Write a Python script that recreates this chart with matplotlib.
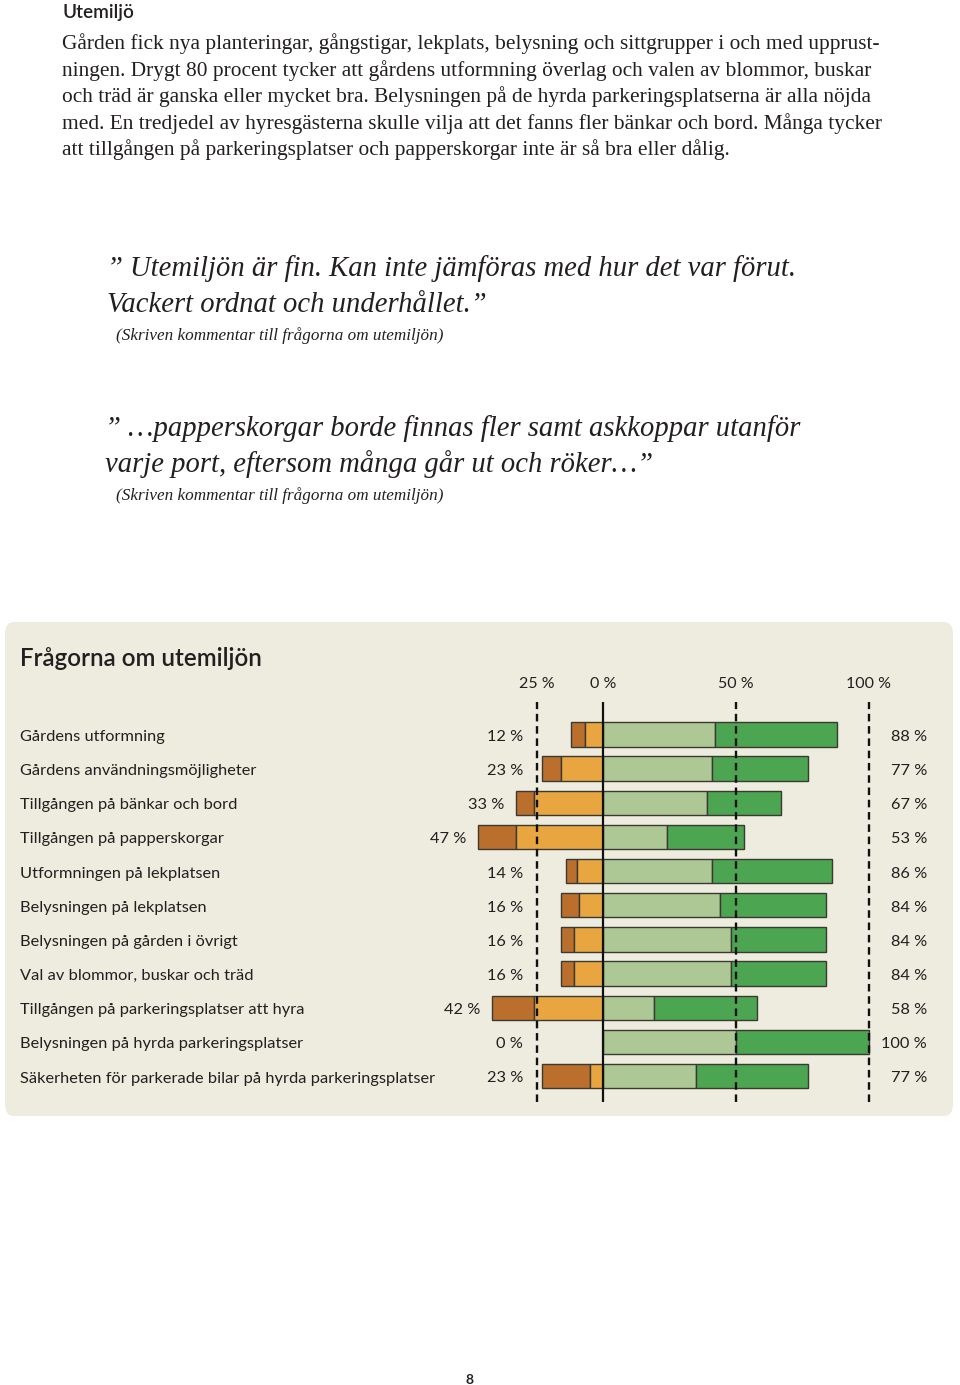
import matplotlib
matplotlib.use("Agg")
import matplotlib.pyplot as plt
from matplotlib.patches import FancyBboxPatch
from matplotlib.transforms import blended_transform_factory

# ---------------- data ----------------
categories = [
    "Gårdens utformning",
    "Gårdens användningsmöjligheter",
    "Tillgången på bänkar och bord",
    "Tillgången på papperskorgar",
    "Utformningen på lekplatsen",
    "Belysningen på lekplatsen",
    "Belysningen på gården i övrigt",
    "Val av blommor, buskar och träd",
    "Tillgången på parkeringsplatser att hyra",
    "Belysningen på hyrda parkeringsplatser",
    "Säkerheten för parkerade bilar på hyrda parkeringsplatser",
]
very_bad = [5, 7, 7, 14, 4, 7, 5, 5, 16, 0, 18]        # mycket dålig
rather_bad = [7, 16, 26, 33, 10, 9, 11, 11, 26, 0, 5]   # ganska dålig
rather_good = [42, 41, 39, 24, 41, 44, 48, 48, 19, 50, 35]  # ganska bra
very_good = [46, 36, 28, 29, 45, 40, 36, 36, 39, 50, 42]    # mycket bra
neg_labels = ["12 %", "23 %", "33 %", "47 %", "14 %", "16 %", "16 %", "16 %", "42 %", "0 %", "23 %"]
pos_labels = ["88 %", "77 %", "67 %", "53 %", "86 %", "84 %", "84 %", "84 %", "58 %", "100 %", "77 %"]
scale_ticks = [-25, 0, 50, 100]
scale_tick_labels = ["25 %", "0 %", "50 %", "100 %"]

heading = "Utemiljö"
body_lines = [
    "Gården fick nya planteringar, gångstigar, lekplats, belysning och sittgrupper i och med upprust-",
    "ningen. Drygt 80 procent tycker att gårdens utformning överlag och valen av blommor, buskar",
    "och träd är ganska eller mycket bra. Belysningen på de hyrda parkeringsplatserna är alla nöjda",
    "med. En tredjedel av hyresgästerna skulle vilja att det fanns fler bänkar och bord. Många tycker",
    "att tillgången på parkeringsplatser och papperskorgar inte är så bra eller dålig.",
]
quote1 = ["\u201d Utemiljön är fin. Kan inte jämföras med hur det var förut.",
          "Vackert ordnat och underhållet.\u201d"]
quote2 = ["\u201d \u2026papperskorgar borde finnas fler samt askkoppar utanför",
          "varje port, eftersom många går ut och röker\u2026\u201d"]
attribution = "(Skriven kommentar till frågorna om utemiljön)"
chart_title = "Frågorna om utemiljön"
page_number = "8"

# ---------------- style ----------------
C_VBAD = "#BA6F2C"
C_BAD = "#E8A540"
C_GOOD = "#AEC895"
C_VGOOD = "#4CA651"
C_EDGE = "#3a3a32"
C_PANEL = "#EEEBDF"
C_TEXT = "#231f20"

W, H = 960, 1385
fig = plt.figure(figsize=(W / 100, H / 100), dpi=100)
fig.patch.set_facecolor("white")

TXT_DY = 2.5  # px shift for vertically centred text


def fx(px):
    return px / W


def fy(py):
    return 1 - (py + TXT_DY) / H


SANS = ["Lato", "DejaVu Sans"]
SERIF = ["Liberation Serif", "DejaVu Serif"]

# ---------------- text section ----------------
fig.text(fx(62), fy(10), heading, family=SANS, fontsize=13.6, fontweight="semibold",
         color=C_TEXT, va="center", ha="left")
body_y = [41, 68, 94, 121, 147]
for line, y in zip(body_lines, body_y):
    fig.text(fx(62), fy(y), line, family=SERIF, fontsize=15.4, color=C_TEXT,
             va="center", ha="left")

for line, y in zip(quote1, [266, 302]):
    fig.text(fx(107), fy(y), line, family=SERIF, fontsize=20.6, style="italic",
             color=C_TEXT, va="center", ha="left")
fig.text(fx(116), fy(333), attribution, family=SERIF, fontsize=12.3, style="italic",
         color=C_TEXT, va="center", ha="left")
for line, y in zip(quote2, [426, 462]):
    fig.text(fx(105), fy(y), line, family=SERIF, fontsize=20.6, style="italic",
             color=C_TEXT, va="center", ha="left")
fig.text(fx(116), fy(493), attribution, family=SERIF, fontsize=12.3, style="italic",
         color=C_TEXT, va="center", ha="left")

fig.text(fx(469), fy(1377), page_number, family=SANS, fontsize=10, fontweight="bold",
         color=C_TEXT, va="center", ha="center")

# ---------------- panel ----------------
P_TOP, P_BOT = 622, 1116
panel = FancyBboxPatch((5 / W, 1 - P_BOT / H), (953 - 5) / W, (P_BOT - P_TOP) / H,
                       boxstyle="round,pad=0,rounding_size=0.009",
                       transform=fig.transFigure, facecolor=C_PANEL, edgecolor="none",
                       zorder=-5)
fig.patches.append(panel)

fig.text(fx(20), fy(656), chart_title, family=SANS, fontsize=17.4, fontweight="semibold",
         color=C_TEXT, va="center", ha="left")

# ---------------- chart axes ----------------
PX_PER_PCT = 2.657
ZERO_PX = 603.3
ax_left, ax_right = 470, 880
ax_top, ax_bottom = 702, 1102
ax = fig.add_axes([ax_left / W, 1 - ax_bottom / H, (ax_right - ax_left) / W,
                   (ax_bottom - ax_top) / H], zorder=2)
ax.set_xlim((ax_left - ZERO_PX) / PX_PER_PCT, (ax_right - ZERO_PX) / PX_PER_PCT)
row_px = 34.15
ax.set_ylim(len(categories) - 1 + (ax_bottom - 1076) / row_px, -(734.5 - ax_top) / row_px)
ax.axis("off")
ax.patch.set_alpha(0)

ypos = list(range(len(categories)))
bh = 0.714
kw = dict(height=bh, edgecolor=C_EDGE, linewidth=1.0, zorder=2)
vbad_left = [-(a + b) for a, b in zip(very_bad, rather_bad)]
bad_left = [-b for b in rather_bad]
ax.barh(ypos, very_bad, left=vbad_left, color=C_VBAD, **kw)
ax.barh(ypos, rather_bad, left=bad_left, color=C_BAD, **kw)
ax.barh(ypos, rather_good, left=0, color=C_GOOD, **kw)
ax.barh(ypos, very_good, left=rather_good, color=C_VGOOD, **kw)

for t in scale_ticks:
    if t == 0:
        ax.axvline(0, color="#111111", lw=1.6, zorder=4)
    else:
        ax.axvline(t, color="#111111", lw=1.7, ls=(0, (3.2, 2.0)), zorder=4)

dy = TXT_DY / row_px
# scale labels above
for t, lab in zip(scale_ticks, scale_tick_labels):
    ax.text(t, -(734.5 - 681) / row_px + dy, lab, family=SANS, fontsize=11.5,
            color=C_TEXT, ha="center", va="center")

# category labels and percentages
cat_tr = blended_transform_factory(fig.transFigure, ax.transData)
for i, cat in enumerate(categories):
    ax.text(20 / W, i + dy, cat, transform=cat_tr, family=SANS, fontsize=11.8,
            color=C_TEXT, ha="left", va="center")
    neg_total = very_bad[i] + rather_bad[i]
    lx = min(-30.2, -neg_total - 4.4)
    ax.text(lx, i + dy, neg_labels[i], family=SANS, fontsize=11.8, color=C_TEXT,
            ha="right", va="center")
    ax.text((927 - ZERO_PX) / PX_PER_PCT, i + dy, pos_labels[i], family=SANS,
            fontsize=11.8, color=C_TEXT, ha="right", va="center")

fig.savefig("out.png", dpi=100, facecolor="white")
